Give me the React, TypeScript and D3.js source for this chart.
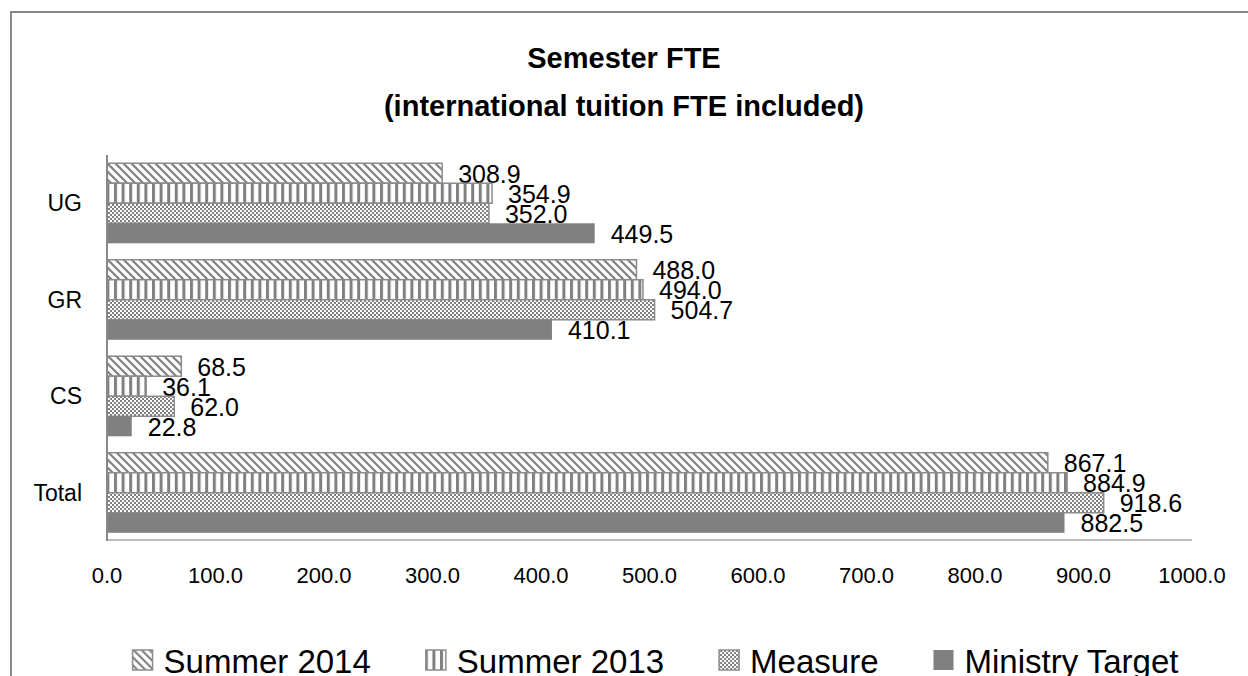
import React, { useEffect, useRef } from "react";
import * as d3 from "d3";

const categories = ["UG", "GR", "CS", "Total"];
const seriesNames = ["Summer 2014", "Summer 2013", "Measure", "Ministry Target"];
const summer2014 = [308.9, 488.0, 68.5, 867.1];
const summer2013 = [354.9, 494.0, 36.1, 884.9];
const measure = [352.0, 504.7, 62.0, 918.6];
const ministryTarget = [449.5, 410.1, 22.8, 882.5];
const xTicks = [0, 100, 200, 300, 400, 500, 600, 700, 800, 900, 1000];

const FONT = "'Liberation Sans', Arial, sans-serif";
const GRAY = "#808080";

const App = () => {
    const svgRef = useRef(null);
    const width = 1248;
    const height = 676;

    useEffect(() => {
        const svg = d3.select(svgRef.current);
        svg.selectAll("*").remove();

        const defs = svg.append("defs");

        // diagonal hatch (Summer 2014)
        const diag = defs.append("pattern")
            .attr("id", "pDiag")
            .attr("patternUnits", "userSpaceOnUse")
            .attr("width", 8)
            .attr("height", 8);
        diag.append("rect").attr("width", 8).attr("height", 8).attr("fill", "#fff");
        diag.append("path")
            .attr("d", "M0,0 L8,8 M-1,7 L1,9 M7,-1 L9,1")
            .attr("stroke", GRAY)
            .attr("stroke-width", 2.2);

        // vertical stripes (Summer 2013)
        const vert = defs.append("pattern")
            .attr("id", "pVert")
            .attr("patternUnits", "userSpaceOnUse")
            .attr("width", 7.6)
            .attr("height", 8);
        vert.append("rect").attr("width", 7.6).attr("height", 8).attr("fill", "#fff");
        vert.append("rect").attr("x", 0).attr("width", 3).attr("height", 8).attr("fill", GRAY);

        // fine checker (Measure)
        const check = defs.append("pattern")
            .attr("id", "pCheck")
            .attr("patternUnits", "userSpaceOnUse")
            .attr("width", 4)
            .attr("height", 4);
        check.append("rect").attr("width", 4).attr("height", 4).attr("fill", "#fff");
        check.append("rect").attr("width", 2).attr("height", 2).attr("fill", GRAY);
        check.append("rect").attr("x", 2).attr("y", 2).attr("width", 2).attr("height", 2).attr("fill", GRAY);

        const fills = ["url(#pDiag)", "url(#pVert)", "url(#pCheck)", GRAY];
        const seriesValues = [summer2014, summer2013, measure, ministryTarget];

        // outer chart border
        svg.append("rect")
            .attr("x", 11)
            .attr("y", 12)
            .attr("width", width + 20)
            .attr("height", height + 20)
            .attr("fill", "none")
            .attr("stroke", "#888")
            .attr("stroke-width", 2);

        // title
        const title = svg.append("text")
            .attr("text-anchor", "middle")
            .attr("font-family", FONT)
            .attr("font-weight", "bold")
            .attr("font-size", 29)
            .attr("fill", "#000");
        title.append("tspan").attr("x", 624).attr("y", 68).text("Semester FTE");
        title.append("tspan").attr("x", 624).attr("y", 116).text("(international tuition FTE included)");

        const xScale = d3.scaleLinear().domain([0, 1000]).range([107, 1192]);
        const yScale = d3.scaleBand()
            .domain(categories)
            .range([155, 541])
            .paddingInner(0.17)
            .paddingOuter(0.085);
        const inner = d3.scaleBand()
            .domain(seriesNames)
            .range([0, yScale.bandwidth()]);

        // x axis line + tick labels
        svg.append("line")
            .attr("x1", xScale(0))
            .attr("x2", xScale(1000))
            .attr("y1", 540)
            .attr("y2", 540)
            .attr("stroke", "#a6a6a6")
            .attr("stroke-width", 1.5);

        svg.selectAll(".xtick")
            .data(xTicks)
            .enter()
            .append("text")
            .attr("class", "xtick")
            .attr("x", d => xScale(d))
            .attr("y", 583)
            .attr("text-anchor", "middle")
            .attr("font-family", FONT)
            .attr("font-size", 22)
            .attr("fill", "#000")
            .text(d => d3.format(".1f")(d));

        // bars
        seriesNames.forEach((name, si) => {
            const g = svg.append("g");
            g.selectAll("rect")
                .data(seriesValues[si])
                .enter()
                .append("rect")
                .attr("x", xScale(0))
                .attr("y", (d, i) => yScale(categories[i]) + inner(name))
                .attr("width", d => xScale(d) - xScale(0))
                .attr("height", inner.bandwidth())
                .attr("fill", fills[si])
                .attr("stroke", si === 3 ? "none" : "#8c8c8c")
                .attr("stroke-width", 1.5);

            g.selectAll("text")
                .data(seriesValues[si])
                .enter()
                .append("text")
                .attr("x", d => xScale(d) + 16)
                .attr("y", (d, i) => yScale(categories[i]) + inner(name) + inner.bandwidth() / 2 + 9.5)
                .attr("font-family", FONT)
                .attr("font-size", 25)
                .attr("fill", "#000")
                .text(d => d3.format(".1f")(d));
        });

        // y axis line
        svg.append("line")
            .attr("x1", 107)
            .attr("x2", 107)
            .attr("y1", 155)
            .attr("y2", 541)
            .attr("stroke", "#888")
            .attr("stroke-width", 2);

        // category labels
        svg.selectAll(".ycat")
            .data(categories)
            .enter()
            .append("text")
            .attr("class", "ycat")
            .attr("x", 82)
            .attr("y", d => yScale(d) + yScale.bandwidth() / 2 + 8)
            .attr("text-anchor", "end")
            .attr("font-family", FONT)
            .attr("font-size", 23)
            .attr("fill", "#000")
            .text(d => d);

        // legend
        const legend = svg.append("g");
        let x = 0;
        seriesNames.forEach((name, i) => {
            const item = legend.append("g");
            item.append("rect")
                .attr("x", 1)
                .attr("y", 650)
                .attr("width", 20)
                .attr("height", 20)
                .attr("fill", fills[i])
                .attr("stroke", i === 3 ? "none" : "#8c8c8c")
                .attr("stroke-width", 1.5);
            const t = item.append("text")
                .attr("x", 32)
                .attr("y", 673)
                .attr("font-family", FONT)
                .attr("font-size", 33)
                .attr("fill", "#000")
                .text(name);
            const w = 32 + t.node().getComputedTextLength();
            item.attr("transform", `translate(${x}, 0)`);
            x += w + 54;
        });
        const total = x - 54;
        legend.attr("transform", `translate(${655 - total / 2}, 0)`);
    }, []);

    return (
        <svg
            ref={svgRef}
            width={width}
            height={height}
            style={{ position: "absolute", left: 0, top: 0, background: "#fff" }}
        />
    );
};

export default App;
